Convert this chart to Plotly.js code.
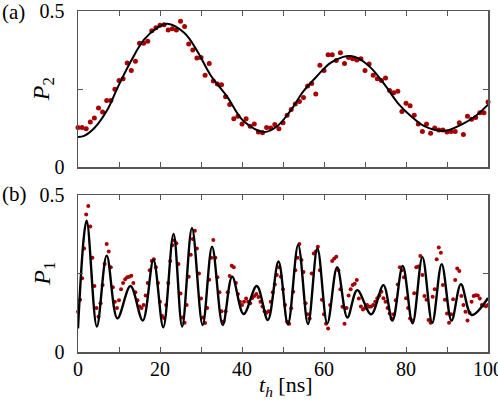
<!DOCTYPE html>
<html>
<head>
<meta charset="utf-8">
<script src="https://cdn.plot.ly/plotly-3.0.1.min.js"></script>
<style>
  html, body { margin:0; padding:0; background:#fff; }
  #chart { width:498px; height:402px; }
</style>
</head>
<body>
<div id="chart"></div>
<script>
// (a) P2: measured points, one per ns
const tData2 = Array.from({length: 101}, (_, i) => i);
const pData2 = [
  0.127,0.127,0.123,0.144,0.157,0.189,0.176,0.213,0.213,0.249,
  0.277,0.283,0.333,0.309,0.339,0.397,0.397,0.403,0.437,0.446,
  0.454,0.456,0.439,0.443,0.439,0.467,0.450,0.394,0.375,0.349,
  0.351,0.294,0.332,0.276,0.266,0.264,0.225,0.200,0.155,0.163,
  0.138,0.155,0.131,0.138,0.112,0.110,0.127,0.125,0.136,0.123,
  0.142,0.166,0.184,0.202,0.210,0.223,0.260,0.268,0.234,0.326,
  0.309,0.360,0.360,0.341,0.366,0.332,0.351,0.347,0.343,0.347,
  0.309,0.330,0.294,0.283,0.277,0.285,0.245,0.238,0.243,0.178,
  0.204,0.196,0.166,0.138,0.114,0.138,0.108,0.125,0.119,0.119,
  0.112,0.114,0.114,0.142,0.104,0.163,0.153,0.159,0.174,0.174,
  0.208
];
// (a) fit curve
const tFit2 = [0,1.5,4,7.2,9.6,12.9,16.1,19.3,21.8,25.9,29.1,32.3,36.3,40.3,45.5,48.5,51.7,55,58.2,61.5,64.7,66.5,68.3,71.5,74.8,78,81.3,84.6,89.4,93.5,96.8,100];
const pFit2 = [0.096,0.100,0.125,0.184,0.253,0.339,0.408,0.446,0.459,0.430,0.371,0.295,0.227,0.148,0.112,0.130,0.178,0.243,0.290,0.333,0.353,0.356,0.349,0.317,0.264,0.205,0.162,0.130,0.116,0.136,0.162,0.200];

// (b) P1: measured points, every 0.5 ns
const tData1 = Array.from({length: 201}, (_, i) => i * 0.5);
const pData1 = [
  0.128,0.166,0.235,0.330,0.438,0.465,0.400,0.300,0.210,0.140,
  0.112,0.155,0.213,0.280,0.344,0.320,0.270,0.206,0.160,0.140,
  0.165,0.200,0.220,0.232,0.238,0.240,0.243,0.220,0.190,0.165,
  0.145,0.140,0.150,0.180,0.220,0.260,0.290,0.295,0.270,0.220,
  0.160,0.115,0.108,0.150,0.220,0.290,0.340,0.355,0.346,0.280,
  0.186,0.110,0.093,0.150,0.240,0.310,0.360,0.386,0.330,0.250,
  0.170,0.110,0.092,0.140,0.230,0.300,0.357,0.300,0.238,0.190,
  0.130,0.097,0.130,0.190,0.242,0.275,0.270,0.220,0.185,0.160,
  0.150,0.160,0.170,0.160,0.155,0.172,0.178,0.185,0.175,0.160,
  0.145,0.130,0.125,0.130,0.160,0.190,0.215,0.245,0.270,0.240,
  0.200,0.150,0.096,0.090,0.139,0.192,0.260,0.300,0.344,0.293,
  0.255,0.155,0.120,0.107,0.250,0.314,0.320,0.335,0.260,0.166,
  0.120,0.090,0.075,0.150,0.290,0.298,0.303,0.260,0.200,0.144,
  0.090,0.140,0.180,0.200,0.213,0.217,0.229,0.170,0.145,0.135,
  0.140,0.150,0.144,0.145,0.150,0.160,0.171,0.180,0.192,0.171,
  0.160,0.140,0.123,0.107,0.120,0.165,0.215,0.270,0.260,0.238,
  0.171,0.140,0.107,0.100,0.187,0.270,0.272,0.306,0.245,0.178,
  0.166,0.102,0.093,0.176,0.200,0.295,0.333,0.316,0.213,0.166,
  0.123,0.093,0.120,0.168,0.229,0.266,0.258,0.178,0.150,0.128,
  0.100,0.125,0.160,0.178,0.181,0.180,0.170,0.150,0.148,0.146,
  0.150
];
// (b) fit curve: extrema
const tFit1 = [0,2.1,4.6,7.0,9.6,12.8,15.8,18.4,20.8,23.3,25.4,27.8,30.4,32.7,35.3,37.6,40.4,43.6,46.3,48.9,51.2,53.7,56.1,58.4,60.8,63.2,65.7,68.1,71.5,74.5,76.7,79.2,81.6,84.0,86.4,88.7,91.1,93.4,96.0,100];
const pFit1 = [0.075,0.418,0.081,0.307,0.107,0.210,0.100,0.293,0.079,0.376,0.081,0.394,0.086,0.335,0.086,0.240,0.121,0.210,0.102,0.288,0.088,0.341,0.089,0.330,0.091,0.270,0.110,0.197,0.120,0.213,0.100,0.274,0.091,0.302,0.093,0.280,0.100,0.216,0.118,0.172];

const xTicks = [0,10,20,30,40,50,60,70,80,90,100];
const xTickText = ['0','','20','','40','','60','','80','','100'];
const yTicks = [0,0.25,0.5];
const yTickText = ['0','','0.5'];

const DOT = '#a80000';
const FRAME = '#555';
const FONT = 'Liberation Serif, serif';

const traces = [
  { type:'scatter', mode:'markers', x:tData2, y:pData2, xaxis:'x', yaxis:'y',
    marker:{color:DOT, size:5}, cliponaxis:false },
  { type:'scatter', mode:'lines', x:tFit2, y:pFit2, xaxis:'x', yaxis:'y',
    line:{color:'#000', width:2, shape:'spline', smoothing:1} },
  { type:'scatter', mode:'markers', x:tData1, y:pData1, xaxis:'x2', yaxis:'y2',
    marker:{color:DOT, size:4}, cliponaxis:false },
  { type:'scatter', mode:'lines', x:tFit1, y:pFit1, xaxis:'x2', yaxis:'y2',
    line:{color:'#000', width:2.4, shape:'spline', smoothing:1} }
];

function xAxis(anchor, labels){
  return { anchor, domain:[0,1], range:[0,100], tickvals:xTicks, ticktext:xTickText,
    showticklabels:labels, ticks:'inside', ticklen:5, tickcolor:FRAME, tickwidth:1,
    showline:true, linecolor:FRAME, linewidth:1.5, mirror:'ticks',
    showgrid:false, zeroline:false, ticklabelstandoff:-2, ticklabeloverflow:'allow' };
}
function yAxis(anchor, domain){
  return { anchor, domain, range:[0,0.5], tickvals:yTicks, ticktext:yTickText,
    ticks:'inside', ticklen:5, tickcolor:FRAME, tickwidth:1,
    showline:true, linecolor:FRAME, linewidth:1.5, mirror:'ticks',
    showgrid:false, zeroline:false, ticklabelstandoff:8, ticklabeloverflow:'allow' };
}

const layout = {
  width:498, height:402,
  margin:{l:78, r:10, t:11, b:50, pad:0},
  paper_bgcolor:'#fff', plot_bgcolor:'#fff',
  showlegend:false,
  font:{family:FONT, size:20, color:'#000'},
  xaxis: xAxis('y', false),
  yaxis: yAxis('x', [0.5425,1]),
  xaxis2: xAxis('y2', true),
  yaxis2: yAxis('x2', [0,0.4604]),
  annotations:[
    { text:'(a)', xref:'paper', yref:'paper', x:-0.19, y:0.997, xanchor:'left', yanchor:'middle', showarrow:false, font:{size:21} },
    { text:'(b)', xref:'paper', yref:'paper', x:-0.19, y:0.463, xanchor:'left', yanchor:'middle', showarrow:false, font:{size:21} },
    { text:'<i>P</i><sub>2</sub>', xref:'paper', yref:'paper', x:-0.085, y:0.771, textangle:-90, xanchor:'center', yanchor:'middle', showarrow:false, font:{size:24} },
    { text:'<i>P</i><sub>1</sub>', xref:'paper', yref:'paper', x:-0.085, y:0.230, textangle:-90, xanchor:'center', yanchor:'middle', showarrow:false, font:{size:24} },
    { text:'<i>t</i><sub><i>h</i></sub> [ns]', xref:'paper', yref:'paper', x:0.507, y:-0.1, xanchor:'center', yanchor:'middle', showarrow:false, font:{size:22} }
  ]
};

Plotly.newPlot('chart', traces, layout, {displayModeBar:false, staticPlot:true});
</script>
</body>
</html>
